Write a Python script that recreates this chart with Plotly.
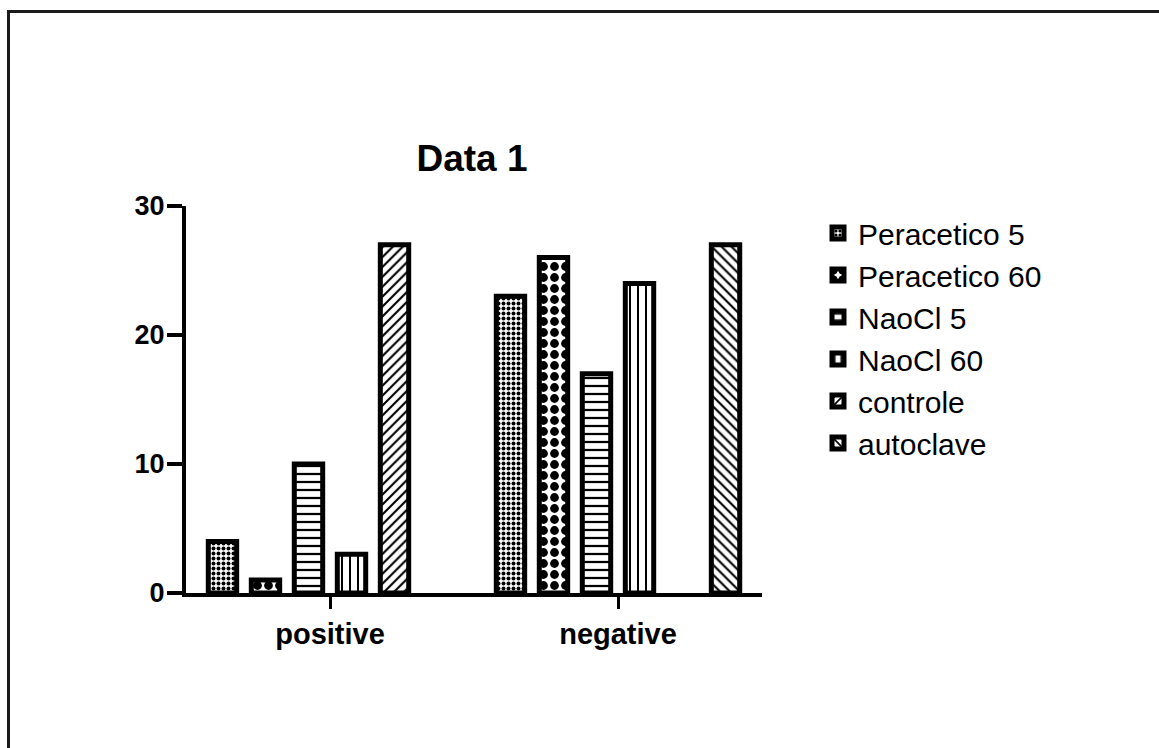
import plotly.graph_objects as go

categories = ["positive", "negative"]
series_names = ["Peracetico 5", "Peracetico 60", "NaoCl 5", "NaoCl 60", "controle", "autoclave"]
peracetico_5 = [4, 23]
peracetico_60 = [1, 26]
naocl_5 = [10, 17]
naocl_60 = [3, 24]
controle = [27, None]
autoclave = [None, 27]
y_ticks = [0, 10, 20, 30]

series_values = [peracetico_5, peracetico_60, naocl_5, naocl_60, controle, autoclave]
patterns = [
    dict(shape=".", size=5, solidity=0.5),
    dict(shape=".", size=11, solidity=0.5),
    dict(shape="-", size=8, solidity=0.28),
    dict(shape="|", size=8, solidity=0.25),
    dict(shape="/", size=7, solidity=0.3),
    dict(shape="\\", size=7, solidity=0.3),
]

fig = go.Figure()
for i, (name, vals, pat) in enumerate(zip(series_names, series_values, patterns)):
    fig.add_trace(go.Bar(
        x=categories, y=vals, name=name,
        marker=dict(color="white",
                    line=dict(color="black", width=5),
                    pattern=dict(fgcolor="black", bgcolor="white", fillmode="replace", **pat)),
    ))

W, H = 1159, 748
L, R, T, B = 186, 397, 206, 155
pw, ph = W - L - R, H - T - B

def px_to_paper_x(px):
    return (px - L) / pw

def px_to_paper_y(py):
    return (H - B - py) / ph

FONT = "Liberation Sans, Arial, sans-serif"

fig.update_layout(
    width=W, height=H,
    margin=dict(l=L, r=R, t=T, b=B, pad=0),
    paper_bgcolor="white", plot_bgcolor="white",
    barmode="group", bargap=0.104, bargroupgap=0.34,
    font=dict(family=FONT, color="black"),
    title=dict(text="Data 1", x=px_to_paper_x(472), xref="paper", xanchor="center",
               y=1 - 158 / H, yref="container", yanchor="middle",
               font=dict(size=37, color="black", weight="bold", family=FONT)),
    legend=dict(x=px_to_paper_x(818), y=px_to_paper_y(207), xanchor="left", yanchor="top",
                font=dict(size=30, color="black", family=FONT), tracegroupgap=0,
                bgcolor="rgba(0,0,0,0)"),
    showlegend=True,
)
fig.update_xaxes(
    showline=True, linecolor="black", linewidth=4,
    ticks="outside", ticklen=12, tickwidth=3, tickcolor="black",
    tickfont=dict(size=29, color="black", weight="bold", family=FONT),
    showgrid=False, zeroline=False,
)
fig.update_yaxes(
    range=[0, 30], tickvals=y_ticks,
    showline=True, linecolor="black", linewidth=4,
    ticks="outside", ticklen=15, tickwidth=4, tickcolor="black",
    tickfont=dict(size=27, color="black", weight="bold", family=FONT),
    ticklabelstandoff=-3,
    showgrid=False, zeroline=False,
)
# page border (left and top edges visible)
fig.add_shape(type="path", xref="paper", yref="paper",
              path=f"M {px_to_paper_x(8.5)},{px_to_paper_y(800)} L {px_to_paper_x(8.5)},{px_to_paper_y(11.5)} L {px_to_paper_x(1200)},{px_to_paper_y(11.5)}",
              line=dict(color="#1a1a1a", width=3))

fig.write_html("out.html")
